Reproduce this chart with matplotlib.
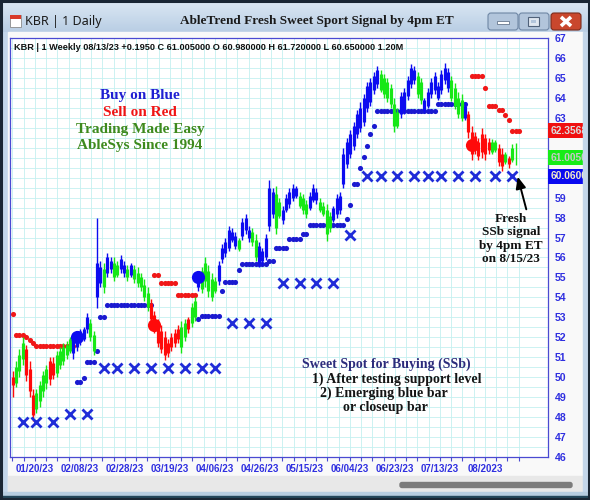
import matplotlib
matplotlib.use('Agg')
import matplotlib.pyplot as plt
import matplotlib.patches as mpatches
import numpy as np

# daily KBR bars: colour code, low, high, open, close (10 per row)
bar_color = list("rgggrrrggg" "grrgggggbb" "bbbggbbgbb" "ggbbgbgggg"
                 "grrrrrrrrr" "ggrggbgggg" "gbbbbbbgbb" "bggbbbbbgg"
                 "bbbbbgggbb" "bggggbbbbb" "bbbbbbbbbg" "gggggbbbbb"
                 "ggbbbbbbbb" "ggggbrrrrr" "rrggrrgrgg")

low = [49.0, 49.5, 50.0, 50.6, 49.8, 49.0, 47.8, 48.2, 48.5, 49.0,
       49.4, 49.6, 49.9, 50.0, 50.4, 50.6, 50.9, 51.2, 50.9, 51.3,
       51.6, 51.8, 52.2, 51.8, 51.1, 53.45, 54.5, 54.2, 55.0, 55.2,
       54.8, 55.0, 55.2, 55.0, 54.8, 55.0, 54.7, 54.5, 54.3, 53.8,
       53.3, 52.7, 52.2, 51.5, 51.2, 50.85, 51.0, 51.3, 51.5, 51.7,
       51.2, 51.8, 52.2, 52.5, 52.8, 54.3, 54.2, 54.5, 54.0, 53.8,
       54.2, 54.6, 55.7, 56.0, 56.3, 56.8, 56.4, 56.3, 56.9, 57.2,
       56.8, 56.6, 55.8, 55.5, 55.6, 55.85, 57.35, 58.0, 57.2, 58.0,
       57.7, 58.3, 58.5, 58.85, 59.0, 58.5, 58.2, 58.0, 58.4, 58.8,
       58.7, 58.3, 58.1, 56.85, 57.3, 57.8, 58.0, 58.2, 59.5, 60.5,
       61.0, 61.4, 62.0, 62.3, 62.6, 63.3, 63.6, 64.2, 64.5, 64.3,
       64.0, 63.8, 63.5, 62.3, 62.5, 63.0, 63.2, 63.9, 64.5, 64.7,
       64.0, 63.7, 63.3, 63.5, 64.0, 64.2, 63.9, 64.2, 64.7, 64.3,
       63.85, 63.45, 63.0, 62.85, 62.9, 62.0, 60.9, 61.2, 60.9, 61.0,
       60.9, 61.2, 61.2, 61.3, 60.6, 60.35, 60.7, 60.5, 60.8, 60.65]

high = [50.3, 50.8, 51.4, 52.0, 51.6, 50.8, 49.4, 49.4, 49.8, 50.3,
        50.6, 51.0, 51.0, 51.3, 51.5, 51.7, 51.8, 52.0, 52.2, 52.3,
        52.4, 52.5, 53.2, 52.9, 52.3, 58.0, 55.8, 55.7, 56.2, 56.0,
        56.0, 55.8, 56.1, 55.8, 55.6, 55.7, 55.6, 55.5, 55.2, 54.9,
        54.5, 53.9, 53.3, 52.9, 52.6, 52.3, 51.9, 52.2, 52.4, 52.6,
        52.8, 52.9, 53.0, 53.7, 54.0, 55.3, 55.5, 56.0, 55.6, 55.2,
        55.0, 55.8, 56.7, 57.0, 57.6, 57.5, 57.3, 57.0, 58.0, 58.2,
        57.6, 57.5, 57.2, 56.8, 56.5, 57.2, 59.9, 59.5, 59.6, 59.0,
        58.6, 59.2, 59.5, 59.7, 59.6, 59.3, 59.2, 58.9, 59.3, 59.7,
        59.5, 59.0, 58.8, 58.7, 58.3, 58.6, 59.2, 59.3, 61.5, 62.0,
        62.4, 62.8, 63.4, 63.8, 64.2, 64.8, 65.0, 65.3, 65.6, 65.4,
        65.2, 65.0, 64.7, 64.0, 63.5, 64.3, 64.5, 65.1, 65.7, 65.6,
        65.3, 65.0, 64.0, 64.5, 65.0, 65.3, 64.8, 65.4, 65.75, 65.5,
        65.1, 64.75, 64.3, 64.2, 63.8, 63.35, 62.6, 62.3, 62.0, 62.5,
        62.2, 62.0, 61.95, 61.9, 61.7, 61.5, 61.3, 61.1, 61.7, 61.72]

open_ = [50.0, 49.7, 50.3, 50.9, 51.4, 50.4, 49.1, 48.4, 48.8, 49.3,
         49.7, 50.8, 50.7, 50.2, 50.6, 50.8, 51.1, 51.3, 51.2, 51.5,
         51.8, 51.9, 52.4, 52.0, 51.3, 54.0, 54.7, 54.5, 55.2, 55.4,
         55.0, 55.1, 55.4, 55.2, 55.0, 55.1, 54.9, 54.7, 54.5, 54.0,
         53.5, 53.7, 53.1, 52.7, 52.3, 52.0, 51.7, 52.0, 52.2, 52.4,
         51.5, 52.0, 52.9, 52.7, 53.0, 54.5, 54.4, 54.8, 54.3, 54.0,
         54.3, 54.8, 55.9, 56.2, 56.5, 56.9, 56.6, 56.4, 57.1, 57.4,
         57.0, 56.8, 56.0, 55.7, 55.8, 56.0, 57.6, 58.2, 57.5, 58.1,
         57.9, 58.4, 58.7, 59.0, 59.1, 58.6, 58.4, 58.2, 58.5, 58.9,
         58.9, 58.4, 58.2, 57.2, 57.5, 57.9, 58.2, 58.4, 59.7, 60.7,
         61.2, 61.6, 62.2, 62.5, 62.8, 63.5, 63.8, 64.4, 64.7, 64.4,
         64.2, 64.0, 63.7, 62.6, 62.6, 63.2, 63.4, 64.1, 64.7, 64.9,
         64.2, 63.9, 63.4, 63.6, 64.2, 64.4, 64.0, 64.4, 64.9, 64.5,
         64.0, 63.6, 63.2, 63.0, 63.0, 63.2, 62.3, 62.1, 61.8, 62.2,
         62.0, 61.8, 61.3, 61.4, 61.5, 61.2, 60.8, 61.0, 60.9, 60.98]

close = [49.6, 50.5, 51.1, 51.7, 50.1, 49.3, 48.1, 49.2, 49.6, 50.1,
         50.4, 49.9, 50.1, 51.1, 51.3, 51.5, 51.6, 51.9, 52.0, 52.1,
         52.3, 52.4, 53.0, 52.7, 52.1, 55.7, 55.5, 55.4, 56.0, 55.8,
         55.7, 55.6, 55.9, 55.6, 55.4, 55.6, 55.4, 55.2, 55.0, 54.6,
         54.2, 52.9, 52.4, 51.7, 51.4, 51.1, 51.2, 51.5, 51.7, 51.9,
         52.5, 52.7, 52.4, 53.5, 53.8, 55.1, 55.3, 55.7, 55.3, 54.9,
         54.8, 55.6, 56.5, 56.8, 57.4, 57.3, 57.1, 56.9, 57.8, 58.0,
         57.4, 57.3, 56.9, 56.6, 56.3, 57.0, 59.5, 59.3, 59.2, 58.8,
         58.4, 59.0, 59.3, 59.5, 59.5, 59.1, 59.0, 58.7, 59.1, 59.5,
         59.3, 58.8, 58.6, 58.4, 58.1, 58.5, 59.0, 59.1, 61.2, 61.8,
         62.2, 62.6, 63.2, 63.5, 64.0, 64.6, 64.8, 65.1, 65.4, 65.2,
         65.0, 64.8, 64.5, 63.7, 63.3, 64.1, 64.3, 64.9, 65.5, 65.4,
         65.1, 64.8, 63.9, 64.3, 64.8, 65.1, 64.6, 65.2, 65.5, 65.3,
         64.9, 64.5, 64.0, 63.9, 63.6, 62.3, 61.2, 61.4, 61.1, 61.3,
         61.2, 61.4, 61.8, 61.8, 60.8, 60.6, 61.2, 60.7, 61.5, 61.005]

# trailing stops (bar index, level)
red_stop_bars = [0, 1, 2, 3, 4, 5, 6, 7, 8, 9, 10, 11, 12, 13, 14, 15, 16, 17, 18,
                 42, 43, 44, 45, 46, 47, 48, 49, 50, 51, 52, 53, 54,
                 136, 137, 138, 139, 140, 141, 142, 143, 144, 145, 146, 147, 148, 149, 150]
red_stop_vals = [53.15, 52.1, 52.1, 52.1, 52.0, 51.85, 51.7, 51.55, 51.55, 51.55, 51.55,
                 51.55, 51.55, 51.55, 51.55, 51.55, 51.55, 51.55, 51.55,
                 55.1, 55.1, 54.7, 54.7, 54.7, 54.7, 54.7, 54.1, 54.1, 54.1, 54.1, 54.1, 54.1,
                 65.1, 65.1, 65.1, 65.1, 64.5, 63.6, 63.6, 63.6, 63.4, 63.4, 63.15, 62.9,
                 62.3568, 62.3568, 62.3568]

blue_stop_bars = [19, 20, 21, 22, 23, 24, 25, 26, 27,
                  28, 29, 30, 31, 32, 33, 34, 35, 36, 37, 38, 39, 40, 41,
                  55, 56, 57, 58, 59, 60, 61, 62, 63, 64, 65, 66, 67,
                  68, 69, 70, 71, 72, 73, 74, 75, 76, 77, 78, 79, 80, 81,
                  82, 83, 84, 85, 86, 87, 88, 89, 90, 91, 92, 93, 94, 95, 96, 97, 98,
                  99, 100, 101, 102, 103, 104, 105, 106, 107,
                  108, 109, 110, 111, 112, 113, 114, 115, 116, 117, 118, 119, 120,
                  121, 122, 123, 124, 125,
                  126, 127, 128, 129, 130, 131, 132, 133, 134]
blue_stop_vals = [49.75, 49.75, 49.95, 50.75, 50.75, 50.75, 51.3, 53.0, 53.0,
                  53.6, 53.6, 53.6, 53.6, 53.6, 53.6, 53.6, 53.6, 53.6, 53.6, 53.6, 53.6, 53.6, 53.6,
                  52.9, 53.05, 53.05, 53.05, 53.05, 53.05, 53.05, 54.3, 54.75, 54.75, 54.75, 54.75, 55.35,
                  55.65, 55.65, 55.65, 55.65, 55.65, 55.65, 55.65, 55.65, 55.8, 55.8, 56.5, 56.5, 56.5, 56.5,
                  56.95, 56.95, 56.95, 56.95, 57.2, 57.2, 57.65, 57.65, 57.65, 57.65, 57.65, 57.65,
                  57.65, 57.65, 57.65, 57.65, 57.65,
                  57.95, 58.65, 59.7, 59.7, 60.5, 61.05, 61.6, 62.2, 62.6,
                  63.35, 63.35, 63.35, 63.35, 63.35, 63.35, 63.35, 63.35, 63.35, 63.35, 63.35, 63.35, 63.35,
                  63.35, 63.35, 63.35, 63.35, 63.35,
                  63.7, 63.7, 63.7, 63.7, 63.7, 63.7, 63.7, 63.7, 63.7]

# fresh buy / sell signals
buy_bars = [19, 55]
buy_vals = [52.0, 55.0]
sell_bars = [42, 136]
sell_vals = [52.6, 61.65]

# weekly sweet spot (SSb) levels
ssb_bars = [3, 7, 12, 17, 22, 27, 31, 36, 41, 46, 51, 56, 60, 65, 70, 75,
            80, 85, 90, 95, 100, 105, 109, 114, 119, 123, 127, 132, 137, 143, 148]
ssb_vals = [47.75, 47.75, 47.75, 48.15, 48.15, 50.45, 50.45, 50.45, 50.45, 50.45,
            50.45, 50.45, 50.45, 52.7, 52.7, 52.7, 54.7, 54.7, 54.7, 54.7, 57.15,
            60.06, 60.06, 60.06, 60.06, 60.06, 60.06, 60.06, 60.06, 60.06, 60.06]

date_labels = ['01/20/23', '02/08/23', '02/28/23', '03/19/23', '04/06/23', '04/26/23',
               '05/15/23', '06/04/23', '06/23/23', '07/13/23', '08/2023']
price_levels = list(range(46, 68))

last_stop = 62.3568
last_close = 61.005
ssb_level = 60.06

COLORS = {'r': '#ff0a0a', 'g': '#16e816', 'b': '#0c0cf0'}
AXIS_BLUE = '#2f2fe0'
SERIF = ['Liberation Serif', 'DejaVu Serif']
SANS = ['Liberation Sans', 'DejaVu Sans']

W, H = 590, 500
fig = plt.figure(figsize=(W / 100, H / 100), dpi=100)

# ---- window frame (pixel coordinates) ----
bg = fig.add_axes([0, 0, 1, 1])
bg.set_xlim(0, W)
bg.set_ylim(H, 0)
bg.axis('off')
bg.add_patch(mpatches.Rectangle((0, 0), W, H, color='#c3d6ea'))
grad = np.linspace(0, 1, 32)[:, None]
bg.imshow(grad, extent=(0, W, 32, 0), aspect='auto', zorder=1,
          cmap=matplotlib.colors.LinearSegmentedColormap.from_list('tb', ['#dce8f4', '#b9cee4']))
bg.add_patch(mpatches.Rectangle((8, 32), 575, 460, color='#f9f9f9', zorder=2))
bg.add_patch(mpatches.Rectangle((8, 476), 575, 16, color='#e8e8e8', zorder=2))
bg.add_patch(mpatches.FancyBboxPatch((400, 482.5), 172, 5, boxstyle='round,pad=0,rounding_size=2',
                                     color='#7b7b7b', zorder=3))

# title bar icon and captions
bg.add_patch(mpatches.Rectangle((10, 15), 11, 12, facecolor='white', edgecolor='#8a8a8a', lw=0.6, zorder=3))
bg.add_patch(mpatches.Rectangle((10, 15), 11, 4, facecolor='#d83a2a', edgecolor='none', zorder=4))
bg.text(25, 22, 'KBR | 1 Daily', fontsize=9, family=['Noto Sans', 'DejaVu Sans'],
        color='#1b1b1b', va='center', zorder=4)
bg.text(317, 21, 'AbleTrend Fresh Sweet Sport Signal by 4pm ET', fontsize=9.5,
        family=SERIF, weight='bold', color='#1a1a1a', ha='center', va='center', zorder=4)

# caption buttons
for x0, face, edge in [(488, '#b2c5db', '#6f87a5'), (519, '#b2c5db', '#6f87a5'), (551, '#c9472d', '#7b2b1b')]:
    bg.add_patch(mpatches.FancyBboxPatch((x0, 13), 30, 17, boxstyle='round,pad=0,rounding_size=3',
                                         facecolor=face, edgecolor=edge, lw=0.8, zorder=4))
bg.add_patch(mpatches.Rectangle((497, 21), 12, 3, facecolor='white', edgecolor='#50627a', lw=0.5, zorder=5))
bg.add_patch(mpatches.Rectangle((528, 17), 11, 9, facecolor='#dfe7f0', edgecolor='#50627a', lw=0.8, zorder=5))
bg.add_patch(mpatches.Rectangle((531, 20), 5, 3, facecolor='#b2c5db', edgecolor='none', zorder=6))
bg.plot([561, 571], [17, 26], color='white', lw=2.6, solid_capstyle='butt', zorder=5)
bg.plot([561, 571], [26, 17], color='white', lw=2.6, solid_capstyle='butt', zorder=5)

# ---- price panel ----
ax = fig.add_axes([10 / W, 43 / H, 538 / W, 419 / H])
ax.set_xlim(-0.8, 158.6)
ax.set_ylim(46, 67)
ax.set_facecolor('white')
for sp in ax.spines.values():
    sp.set_color('#4a4ad2')
    sp.set_linewidth(0.9)

step = 10 / 3
first_label = 6.6
minor_ticks = [first_label + step * k for k in range(-2, 44)]
major_ticks = [first_label + 4 * step * k for k in range(len(date_labels))]
ax.set_xticks(major_ticks)
ax.set_xticklabels(date_labels)
ax.set_xticks(minor_ticks, minor=True)
# levels under the value boxes stay unlabelled
ax.set_yticks(price_levels)
ax.set_yticklabels(['' if v in (60, 61, 62) else str(v) for v in price_levels])
ax.set_yticks(np.arange(46, 67.01, 0.5), minor=True)
ax.yaxis.tick_right()
ax.tick_params(axis='y', which='both', length=0, pad=5, labelcolor=AXIS_BLUE)
ax.tick_params(axis='x', which='both', length=3, width=0.8, color='#4a4ad2', pad=2, labelcolor=AXIS_BLUE)
for lab in ax.get_xticklabels():
    lab.set_fontfamily(SANS)
    lab.set_fontweight('bold')
    lab.set_fontsize(7)
for lab in ax.get_yticklabels():
    lab.set_fontfamily(SANS)
    lab.set_fontweight('bold')
    lab.set_fontsize(7.6)
ax.grid(True, which='both', color='#c4f0f0', lw=0.6)
ax.set_axisbelow(True)

# stops, bars, signals
ax.plot(red_stop_bars, red_stop_vals, 'o', color='#f01818', ms=3.7, mew=0, zorder=2)
ax.plot(blue_stop_bars, blue_stop_vals, 'o', color='#1a1ad0', ms=3.7, mew=0, zorder=2)
xs = np.arange(len(close))
cols = [COLORS[c] for c in bar_color]
ax.vlines(xs, low, high, colors=cols, lw=1.0, zorder=3)
ax.vlines(xs, open_, close, colors=cols, lw=2.3, zorder=3)
ax.plot(ssb_bars, ssb_vals, 'x', color='#1f2cd8', ms=6.5, mew=2.0, zorder=4)
ax.plot(buy_bars, buy_vals, 'o', color='#0c0cf0', ms=9.5, mew=0, zorder=5)
ax.plot(sell_bars, sell_vals, 'o', color='#ff0a0a', ms=9.5, mew=0, zorder=5)

# current value boxes on the price scale
yt = ax.get_yaxis_transform()
for val, face, txt in [(last_stop, '#f01010', '#dcdcdc'), (last_close, '#18ec18', '#c8c8c8'),
                       (ssb_level, '#0a0af0', '#f4ecc8')]:
    ax.text(1.004, val, f'{val:.4f}', transform=yt, ha='left', va='center', fontsize=7.4,
            family=SANS, weight='bold', color=txt, clip_on=False, zorder=6,
            bbox=dict(boxstyle='square,pad=0.25', facecolor=face, edgecolor='none'))

# ---- overlay: annotations and frame edges ----
top = fig.add_axes([0, 0, 1, 1], zorder=10)
top.set_xlim(0, W)
top.set_ylim(H, 0)
top.axis('off')
top.patch.set_alpha(0)

top.text(14, 47, 'KBR | 1 Weekly 08/13/23 +0.1950 C 61.005000 O 60.980000 H 61.720000 L 60.650000 1.20M',
         fontsize=6.6, family=SANS, weight='bold', color='#111111', va='center')

left_notes = [('Buy on Blue', '#1f1fd2'), ('Sell on Red', '#f01414'),
              ('Trading Made Easy', '#3e8a1e'), ('AbleSys Since 1994', '#3e8a1e')]
for k, (txt, c) in enumerate(left_notes):
    top.text(140, 95 + 17 * k, txt, fontsize=11, family=SERIF, weight='bold',
             color=c, ha='center', va='center')

top.text(386, 364, 'Sweet Spot for Buying (SSb)', fontsize=10, family=SERIF, weight='bold',
         color='#2c2c7c', ha='center', va='center')
for txt, x, y in [('1) After testing support level', 397, 379), ('2) Emerging blue bar', 384, 393),
                  ('or closeup bar', 385, 407)]:
    top.text(x, y, txt, fontsize=10, family=SERIF, weight='bold', color='#151515',
             ha='center', va='center')

top.text(511, 239, 'Fresh\nSSb signal\nby 4pm ET\non 8/15/23', fontsize=9.5, family=SERIF,
         weight='bold', color='#111111', ha='center', va='center', linespacing=1.15)
top.annotate('', xy=(517, 174), xytext=(527, 212),
             arrowprops=dict(arrowstyle='-|>,head_length=0.7,head_width=0.3', color='black', lw=1.4))

top.add_patch(mpatches.Rectangle((583, 32), 7, 468, color='#c3d6ea'))
top.add_patch(mpatches.Rectangle((0, 492), W, 8, color='#b7cde0'))
top.add_patch(mpatches.Rectangle((0, 496), W, 4, color='#24465a'))
top.add_patch(mpatches.Rectangle((1, 1), W - 2, H - 2, fill=False, edgecolor='#1a2634', lw=2.2))

fig.savefig('out.png', dpi=100)
